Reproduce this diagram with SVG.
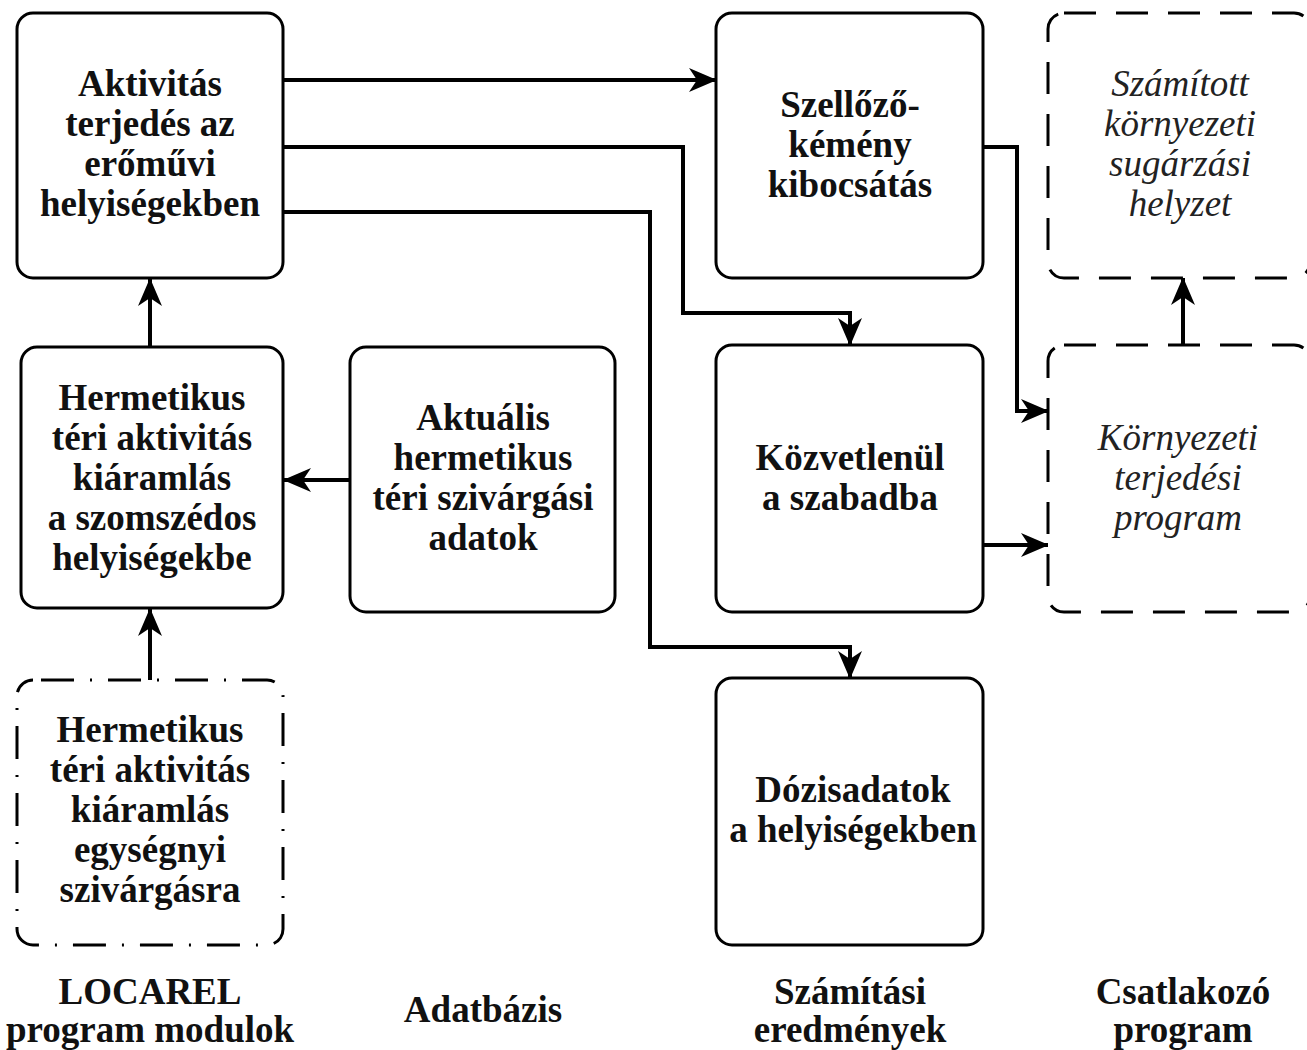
<svg xmlns="http://www.w3.org/2000/svg" width="1307" height="1050" viewBox="0 0 1307 1050">
<style>
.box{fill:#fff;stroke:#000;stroke-width:3}
.dash{fill:#fff;stroke:#000;stroke-width:3;stroke-dasharray:32 20}
.dashdot{fill:#fff;stroke:#000;stroke-width:3;stroke-dasharray:33 16 2 16;stroke-dashoffset:-8}
.t{font-family:"Liberation Serif","Times New Roman",serif;font-size:37px;font-weight:bold;text-anchor:middle;fill:#111}
.ti{font-family:"Liberation Serif","Times New Roman",serif;font-size:37px;font-style:italic;text-anchor:middle;fill:#222}
.c{fill:none;stroke:#000;stroke-width:4}
</style>
<defs>
<marker id="ah" viewBox="0 0 28 24" markerWidth="28" markerHeight="24" refX="27" refY="12" orient="auto" markerUnits="userSpaceOnUse">
<path d="M0,0 L28,12 L0,24 L8,12 z" fill="#000"/>
</marker>
</defs>
<rect width="1307" height="1050" fill="#fff"/>

<g id="connectors">
<path class="c" d="M283,80 H716" marker-end="url(#ah)"/>
<path class="c" d="M283,147 H683 V313 H850 V345" marker-end="url(#ah)"/>
<path class="c" d="M283,212 H650 V647 H850 V678" marker-end="url(#ah)"/>
<path class="c" d="M983,147 H1017 V411 H1048" marker-end="url(#ah)"/>
<path class="c" d="M983,545 H1048" marker-end="url(#ah)"/>
<path class="c" d="M1183,345 V278" marker-end="url(#ah)"/>
<path class="c" d="M350,480 H284" marker-end="url(#ah)"/>
<path class="c" d="M150,347 V279" marker-end="url(#ah)"/>
<path class="c" d="M150,680 V609" marker-end="url(#ah)"/>
</g>

<g id="n-aktivitas">
<rect class="box" x="17" y="13" width="266" height="265" rx="16"/>
<text class="t" x="150" y="96">Aktivitás</text>
<text class="t" x="150" y="136">terjedés az</text>
<text class="t" x="150" y="176">erőművi</text>
<text class="t" x="150" y="216">helyiségekben</text>
</g>

<g id="n-szellozo">
<rect class="box" x="716" y="13" width="267" height="265" rx="16"/>
<text class="t" x="850" y="117">Szellőző-</text>
<text class="t" x="850" y="157">kémény</text>
<text class="t" x="850" y="197">kibocsátás</text>
</g>

<g id="n-szamitott">
<rect class="dash" x="1048" y="13" width="262" height="265" rx="16"/>
<text class="ti" x="1180" y="96">Számított</text>
<text class="ti" x="1180" y="136">környezeti</text>
<text class="ti" x="1180" y="176">sugárzási</text>
<text class="ti" x="1180" y="216">helyzet</text>
</g>

<g id="n-hermetikus">
<rect class="box" x="21" y="347" width="262" height="261" rx="16"/>
<text class="t" x="152" y="410">Hermetikus</text>
<text class="t" x="152" y="450">téri aktivitás</text>
<text class="t" x="152" y="490">kiáramlás</text>
<text class="t" x="152" y="530">a szomszédos</text>
<text class="t" x="152" y="570">helyiségekbe</text>
</g>

<g id="n-aktualis">
<rect class="box" x="350" y="347" width="265" height="265" rx="16"/>
<text class="t" x="483" y="430">Aktuális</text>
<text class="t" x="483" y="470">hermetikus</text>
<text class="t" x="483" y="510">téri szivárgási</text>
<text class="t" x="483" y="550">adatok</text>
</g>

<g id="n-kozvetlenul">
<rect class="box" x="716" y="345" width="267" height="267" rx="16"/>
<text class="t" x="850" y="470">Közvetlenül</text>
<text class="t" x="850" y="510">a szabadba</text>
</g>

<g id="n-kornyezeti">
<rect class="dash" x="1048" y="345" width="262" height="267" rx="16"/>
<text class="ti" x="1178" y="450">Környezeti</text>
<text class="ti" x="1178" y="490">terjedési</text>
<text class="ti" x="1178" y="530">program</text>
</g>

<g id="n-egysegnyi">
<rect class="dashdot" x="17" y="680" width="266" height="265" rx="16"/>
<text class="t" x="150" y="742">Hermetikus</text>
<text class="t" x="150" y="782">téri aktivitás</text>
<text class="t" x="150" y="822">kiáramlás</text>
<text class="t" x="150" y="862">egységnyi</text>
<text class="t" x="150" y="902">szivárgásra</text>
</g>

<g id="n-dozis">
<rect class="box" x="716" y="678" width="267" height="267" rx="16"/>
<text class="t" x="853" y="802">Dózisadatok</text>
<text class="t" x="853" y="842">a helyiségekben</text>
</g>

<g id="labels">
<text class="t" x="150" y="1004">LOCAREL</text>
<text class="t" x="150" y="1042">program modulok</text>
<text class="t" x="483" y="1022">Adatbázis</text>
<text class="t" x="850" y="1004">Számítási</text>
<text class="t" x="850" y="1042">eredmények</text>
<text class="t" x="1183" y="1004">Csatlakozó</text>
<text class="t" x="1183" y="1042">program</text>
</g>
</svg>
